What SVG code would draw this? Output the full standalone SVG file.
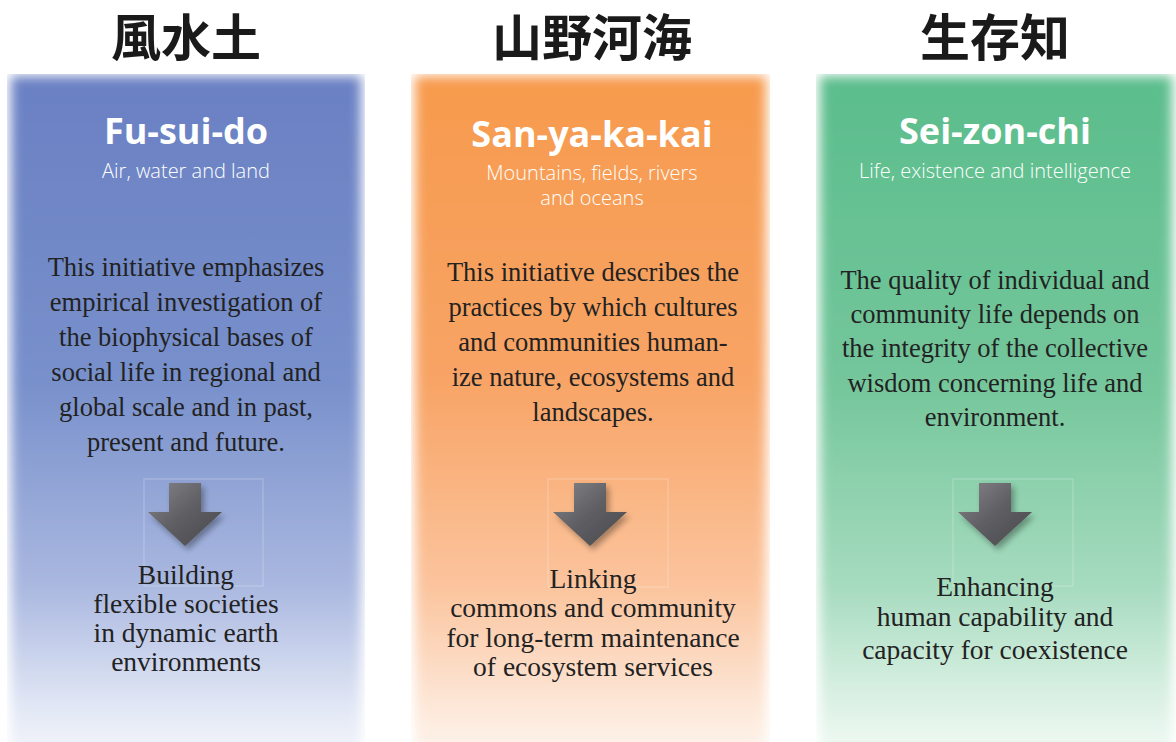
<svg xmlns="http://www.w3.org/2000/svg" width="1176" height="742" viewBox="0 0 1176 742">
<style>
.cjk{font-family:"Noto Sans CJK JP","Noto Sans CJK SC",sans-serif;font-weight:700;font-size:50px;fill:#1a1a1a;text-anchor:middle}
.title{font-family:"Open Sans","Noto Sans",sans-serif;font-weight:700;font-size:36px;fill:#ffffff;text-anchor:middle}
.sub{font-family:"Open Sans","Noto Sans",sans-serif;font-weight:300;font-size:20px;fill:#ffffff;text-anchor:middle}
.body{font-family:"Liberation Serif","Times New Roman",serif;font-size:26.5px;fill:#222222;text-anchor:middle}
.out{font-family:"Liberation Serif","Times New Roman",serif;font-size:27.5px;fill:#222222;text-anchor:middle}
.frame{fill:none;stroke:#ffffff;stroke-opacity:0.35;stroke-width:0.8}
.arrow{fill:url(#arrowGrad);filter:url(#shadow)}
</style>
<defs>
<linearGradient id="gBlue" x1="0" y1="0" x2="0" y2="1">
<stop offset="0" stop-color="#6a80c3"/>
<stop offset="0.45" stop-color="#7890cb"/>
<stop offset="0.75" stop-color="#aab8e0"/>
<stop offset="0.92" stop-color="#dfe5f4"/>
<stop offset="1" stop-color="#f4f6fb"/>
</linearGradient>
<linearGradient id="gOrange" x1="0" y1="0" x2="0" y2="1">
<stop offset="0" stop-color="#f79a4d"/>
<stop offset="0.45" stop-color="#f8a466"/>
<stop offset="0.75" stop-color="#fbc49d"/>
<stop offset="0.92" stop-color="#fde6d6"/>
<stop offset="1" stop-color="#fef5ee"/>
</linearGradient>
<linearGradient id="gGreen" x1="0" y1="0" x2="0" y2="1">
<stop offset="0" stop-color="#5bbd8c"/>
<stop offset="0.45" stop-color="#74c69b"/>
<stop offset="0.75" stop-color="#a6dbbf"/>
<stop offset="0.92" stop-color="#dcf1e5"/>
<stop offset="1" stop-color="#f2faf5"/>
</linearGradient>
<linearGradient id="arrowGrad" x1="0" y1="0" x2="1" y2="1">
<stop offset="0" stop-color="#85858a"/>
<stop offset="0.5" stop-color="#5e5e63"/>
<stop offset="1" stop-color="#48484c"/>
</linearGradient>
<filter id="soft" x="-10%" y="-10%" width="120%" height="120%">
<feGaussianBlur stdDeviation="6"/>
</filter>
<filter id="shadow" x="-30%" y="-30%" width="160%" height="160%">
<feGaussianBlur in="SourceAlpha" stdDeviation="3"/>
<feOffset dx="3" dy="4" result="b"/>
<feComponentTransfer><feFuncA type="linear" slope="0.35"/></feComponentTransfer>
<feMerge><feMergeNode/><feMergeNode in="SourceGraphic"/></feMerge>
</filter>
<clipPath id="c1"><rect x="7" y="74" width="358" height="668"/></clipPath>
<clipPath id="c2"><rect x="411" y="74" width="359" height="668"/></clipPath>
<clipPath id="c3"><rect x="816" y="74" width="360" height="668"/></clipPath>
</defs>
<rect width="1176" height="742" fill="#ffffff"/>

<g id="fusuido">
<text class="cjk" x="186" y="56">風水土</text>
<g clip-path="url(#c1)"><rect x="11" y="76" width="350" height="680" fill="url(#gBlue)" filter="url(#soft)"/></g>
<text class="title" x="186" y="144">Fu-sui-do</text>
<text class="sub" x="186" y="178">Air, water and land</text>
<text class="body" x="186" y="276">This initiative emphasizes</text>
<text class="body" x="186" y="311">empirical investigation of</text>
<text class="body" x="186" y="346">the biophysical bases of</text>
<text class="body" x="186" y="381">social life in regional and</text>
<text class="body" x="186" y="416">global scale and in past,</text>
<text class="body" x="186" y="451">present and future.</text>
<rect class="frame" x="144" y="479" width="119" height="107"/>
<text class="out" x="186" y="584">Building</text>
<text class="out" x="186" y="613">flexible societies</text>
<text class="out" x="186" y="642">in dynamic earth</text>
<text class="out" x="186" y="671">environments</text>
</g>

<g id="sanyakakai">
<text class="cjk" x="592" y="56">山野河海</text>
<g clip-path="url(#c2)"><rect x="415" y="76" width="351" height="680" fill="url(#gOrange)" filter="url(#soft)"/></g>
<text class="title" x="592" y="147">San-ya-ka-kai</text>
<text class="sub" x="592" y="180">Mountains, fields, rivers</text>
<text class="sub" x="592" y="205">and oceans</text>
<text class="body" x="593" y="281">This initiative describes the</text>
<text class="body" x="593" y="316">practices by which cultures</text>
<text class="body" x="593" y="351">and communities human-</text>
<text class="body" x="593" y="386">ize nature, ecosystems and</text>
<text class="body" x="593" y="421">landscapes.</text>
<rect class="frame" x="548" y="479" width="120" height="108"/>
<text class="out" x="593" y="588">Linking</text>
<text class="out" x="593" y="617">commons and community</text>
<text class="out" x="593" y="647">for long-term maintenance</text>
<text class="out" x="593" y="676">of ecosystem services</text>
</g>

<g id="seizonchi">
<text class="cjk" x="995" y="56">生存知</text>
<g clip-path="url(#c3)"><rect x="820" y="76" width="352" height="680" fill="url(#gGreen)" filter="url(#soft)"/></g>
<text class="title" x="995" y="144">Sei-zon-chi</text>
<text class="sub" x="995" y="178">Life, existence and intelligence</text>
<text class="body" x="995" y="289">The quality of individual and</text>
<text class="body" x="995" y="323">community life depends on</text>
<text class="body" x="995" y="357">the integrity of the collective</text>
<text class="body" x="995" y="392">wisdom concerning life and</text>
<text class="body" x="995" y="426">environment.</text>
<rect class="frame" x="953" y="479" width="120" height="107"/>
<text class="out" x="995" y="596">Enhancing</text>
<text class="out" x="995" y="626">human capability and</text>
<text class="out" x="995" y="659">capacity for coexistence</text>
</g>

<g id="connectors">
<path class="arrow" d="M169,483 H201 V512 H222 L185,546 L148,512 H169 Z"/>
<path class="arrow" d="M574,483 H606 V512 H627 L590,546 L553,512 H574 Z"/>
<path class="arrow" d="M979,483 H1011 V512 H1032 L995,546 L958,512 H979 Z"/>
</g>
</svg>
